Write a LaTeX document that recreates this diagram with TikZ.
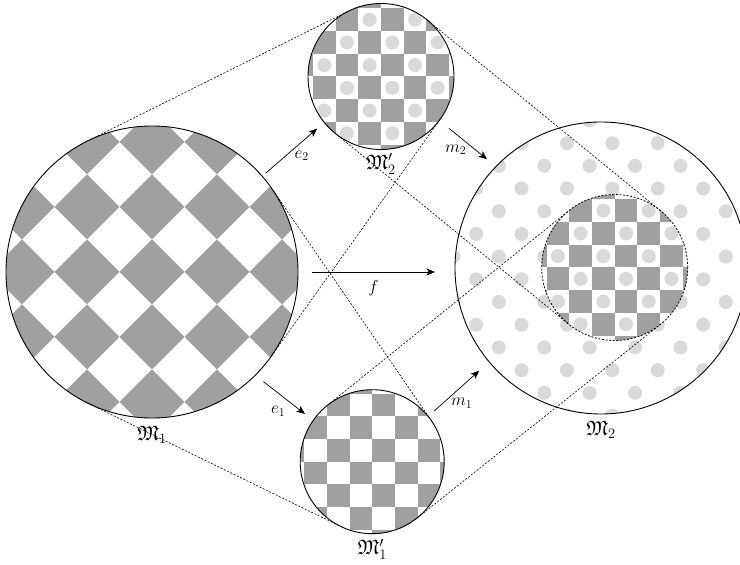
\documentclass[tikz,border=0pt]{standalone}
\usepackage{amssymb}
\usetikzlibrary{arrows.meta,calc,positioning}
\tikzset{
    every picture/.style={
        line width=0.8pt
    },
    % Style for the sets drawn as discs
    set disc/.style={
        circle, draw, line width=0.9pt,
        inner sep=0pt, outer sep=0pt
    },
    % Style for the dotted lines between the sets
    cone line/.style={
        line width=0.6pt, dash pattern=on 2pt off 1.6pt
    },
    % Style for the maps and their labels
    map arrow/.style={
        line width=0.7pt, -{Stealth[length=8.5pt,width=7pt,inset=2.2pt]}
    },
    map label/.style={
        font=\LARGE, inner sep=1pt
    },
    set label/.style={
        font=\huge, inner sep=0pt
    }
}
\definecolor{cellGray}{RGB}{160,160,160}
\definecolor{dotGray}{RGB}{217,217,217}

% gray cells of a checkerboard, cells of side #1
\newcommand{\checkerCells}[1]{%
  \foreach \i in {-5,...,4}{%
    \foreach \j in {-5,...,4}{%
      \ifodd\numexpr\i+\j+10\relax\else
        \fill[cellGray] ({\i*#1},{\j*#1}) rectangle ++(#1,#1);
      \fi}}}
% gray cells of a checkerboard turned by 45 degrees, half diagonal #1
\newcommand{\diamondCells}[1]{%
  \foreach \i in {-3,...,3}{%
    \foreach \j in {-3,...,3}{%
      \fill[cellGray] ({2*\i*#1-#1},{2*\j*#1}) -- ++(#1,#1) -- ++(#1,-#1)
        -- ++(-#1,-#1) -- cycle;}}}
% light dots in the white cells
\newcommand{\whiteDots}[1]{%
  \foreach \i in {-7,...,6}{%
    \foreach \j in {-7,...,6}{%
      \ifodd\numexpr\i+\j+14\relax
        \fill[dotGray] ({(\i+0.5)*#1},{(\j+0.5)*#1}) circle[radius=7];
      \fi}}}

\begin{document}
\begin{tikzpicture}[x=1pt,y=1pt]

% Set the canvas size
\useasboundingbox (0,0) rectangle (740,565);

% Big set on the left, checkerboard turned by 45 degrees
\node[set disc, minimum size=292pt, path picture={
    \begin{scope}[shift={($(path picture bounding box.center)+(-27.7,-1.3)$)}]
      \diamondCells{32.5}
    \end{scope}}] (M1) at (152,293) {};

% Small sets
\node[set disc, minimum size=146pt, path picture={
    \begin{scope}[shift={($(path picture bounding box.center)+(2.1,1.1)$)}]
      \checkerCells{22.7}
    \end{scope}
    \begin{scope}[shift={($(path picture bounding box.center)+(0.1,4.1)$)}]
      \whiteDots{22.7}
    \end{scope}}] (M2p) at (381,488.5) {};

\node[set disc, minimum size=144pt, path picture={
    \begin{scope}[shift={($(path picture bounding box.center)+(1.1,3)$)}]
      \checkerCells{22.7}
    \end{scope}}] (M1p) at (372.2,103.3) {};

% Big set on the right, with the dashed inner set
\node[set disc, minimum size=292pt, path picture={
    \begin{scope}[shift={($(path picture bounding box.center)+(15,5.7)$)}]
      \whiteDots{22.7}
    \end{scope}}] (M2) at (601,297) {};

\node[set disc, fill=white, cone line, line width=0.8pt, minimum size=146pt, path picture={
    \begin{scope}[shift={($(path picture bounding box.center)+(1.3,2.2)$)}]
      \checkerCells{22.7}
    \end{scope}
    \begin{scope}[shift={($(path picture bounding box.center)+(1.3,5.2)$)}]
      \whiteDots{22.7}
    \end{scope}}] (U2) at (614.7,297.5) {};

% Dotted lines, tangent to both sets
\draw[cone line] (M1.116.5) -- (M2p.116.5);
\draw[cone line] (M1.-35.5) -- (M2p.-35.5);
\draw[cone line] (M1.34.5) -- (M1p.34.5);
\draw[cone line] (M1.-116) -- (M1p.-116);
\draw[cone line] (M2p.50.7) -- (U2.50.7);
\draw[cone line] (M2p.-129.3) -- (U2.-129.3);
\draw[cone line] (M1p.128.7) -- (U2.128.7);
\draw[cone line] (M1p.-51.3) -- (U2.-51.3);

% Maps
\draw[map arrow, shorten <=5pt, shorten >=9.5pt] (M1.41) --
  node[map label, below right] (e2lbl) {$e_2$} (M2p.219);
\draw[map arrow, shorten <=10.5pt, shorten >=10.5pt] (M1.-45) --
  node[map label, below=7pt, xshift=-6pt] (e1lbl) {$e_1$} (M1p.145);
\draw[map arrow, shorten <=13.7pt, shorten >=20pt] (M1.east) --
  node[map label, below=7pt, xshift=-3pt] (flbl) {$f$} (M1.east -| M2.west);
\draw[map arrow, shorten <=12.5pt, shorten >=11.5pt] (M2p.-37.3) --
  node[map label, below left] (m2lbl) {$m_2$} (M2.136.2);
\draw[map arrow, shorten <=8.4pt, shorten >=13.4pt] (M1p.39.4) --
  node[map label, below=8pt, xshift=3pt] (m1lbl) {$m_1$} (M2.220.6);

% Names of the sets
\node[set label, below=8pt of M1] (M1name) {$\mathfrak{M}_1$};
\node[set label, below=5pt of M1p] (M1pname) {$\mathfrak{M}'_1$};
\node[set label, below=7pt of M2] (M2name) {$\mathfrak{M}_2$};
\node[set label, below=4pt of M2p] (M2pname) {$\mathfrak{M}'_2$};

\end{tikzpicture}
\end{document}
